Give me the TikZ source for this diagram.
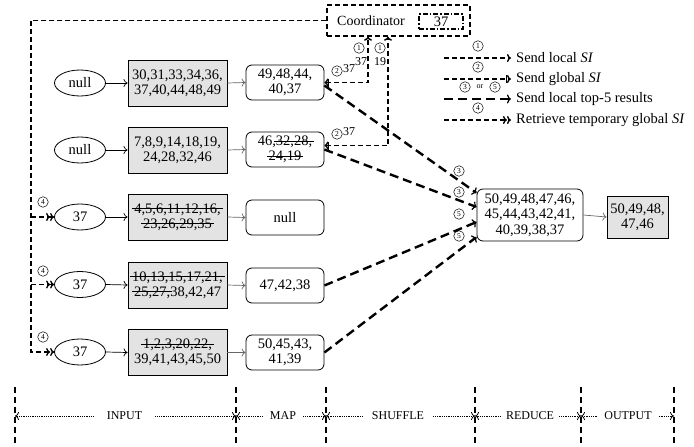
\documentclass[tikz,border=0pt]{standalone}
\usepackage{fontspec}
\setmainfont{Liberation Serif}
\usetikzlibrary{arrows.meta,shapes.geometric}
\newcommand\strk[1]{\setbox0=\hbox{#1}\leavevmode\rlap{\kern-2pt\rule[0.3em]{\dimexpr\wd0+4pt\relax}{0.6pt}}\box0\relax}
\begin{document}
\begin{tikzpicture}[x=1pt,y=-1pt,
  txt/.style={font=\fontsize{14.5}{15.3}\selectfont, align=center},
  ell/.style={ellipse, draw, line width=0.8pt, minimum width=51pt, minimum height=26pt, inner sep=0pt, txt},
  gbox/.style={rectangle, draw, line width=0.9pt, fill=black!11, minimum width=99pt, minimum height=46pt, inner sep=0pt, txt},
  rbox/.style={rectangle, rounded corners=6pt, draw, line width=0.8pt, minimum width=78pt, minimum height=35pt, inner sep=0pt, txt},
  solidarr/.style={-{To[length=4pt,width=8pt]}, line width=0.7pt},
  grayarr/.style={solidarr, draw=black!60},
  dsh/.style={line width=1.4pt, dash pattern=on 5pt off 3pt},
  tdsh/.style={line width=2.4pt, dash pattern=on 9pt off 5pt},
  tipa/.style={-{To[length=4pt,width=8pt]}},
  tipd/.style={-{To[length=4pt,width=8pt]To[length=4pt,width=8pt]}},
  tipc/.style={-{To[length=4pt,width=9pt,line width=1.2pt]}},
  tipb/.style={-{Bar[width=8pt,line width=1pt]To[length=4pt,width=8pt]}},
  cnum/.style={circle, draw, line width=0.5pt, inner sep=0pt, minimum size=10.5pt, font=\fontsize{7.5}{7.5}\selectfont},
  small/.style={font=\fontsize{12}{12}\selectfont, inner sep=0pt},
  leg/.style={font=\fontsize{14.5}{14.5}\selectfont, anchor=west, inner sep=0pt},
  axl/.style={font=\fontsize{12}{12}\selectfont, inner ysep=0pt},
  axarr/.style={densely dotted, line width=0.8pt, -{To[length=4pt,width=8pt]}},
  vdsh/.style={line width=1.3pt, dash pattern=on 6pt off 4pt}
]
\useasboundingbox (0,0) rectangle (694,447);

% coordinator
\node[draw, dsh, minimum width=143pt, minimum height=31pt, inner sep=0pt] (coord) at (398.5,20.5) {};
\node[font=\fontsize{14}{15}\selectfont, inner sep=0pt] (coordtxt) at (371,21) {Coordinator};
\node[draw, line width=1.2pt, dash pattern=on 5pt off 2pt on 1.5pt off 2pt, minimum width=44pt, minimum height=15pt, inner sep=0pt, txt] (cval) at (441,21.5) {37};

% ellipses
\node[ell] (e1) at (80,83) {null};
\node[ell] (e2) at (80,150) {null};
\node[ell] (e3) at (80,217) {37};
\node[ell] (e4) at (80,284.5) {37};
\node[ell] (e5) at (80,352) {37};

% gray input boxes
\node[gbox] (g1) at (177.5,83) {30,31,33,34,36,\\37,40,44,48,49};
\node[gbox] (g2) at (177.5,150) {7,8,9,14,18,19,\\24,28,32,46};
\node[gbox] (g3) at (177.5,217) {\strk{4,5,6,11,12,16,}\\\strk{23,26,29,35}};
\node[gbox] (g4) at (177.5,285) {\strk{10,13,15,17,21,}\\\strk{25,27,}38,42,47};
\node[gbox] (g5) at (177.5,352.5) {\strk{1,2,3,20,22,}\\39,41,43,45,50};

% map boxes
\node[rbox] (m1) at (285,82.5) {49,48,44,\\40,37};
\node[rbox] (m2) at (285,149.5) {46,\strk{32,28,}\\\strk{24,19}};
\node[rbox] (m3) at (285,217.5) {null};
\node[rbox] (m4) at (285,285.5) {47,42,38};
\node[rbox] (m5) at (285,352.5) {50,45,43,\\41,39};

% reduce and output
\node[rbox, minimum width=106pt, minimum height=52pt] (r) at (530,215) {50,49,48,47,46,\\45,44,43,42,41,\\40,39,38,37};
\node[gbox, minimum width=61pt, minimum height=42pt] (o) at (637.5,217) {50,49,48,\\47,46};

% solid arrows
\foreach \i in {1,...,5} {
  \draw[solidarr] (e\i.east) -- (g\i.west);
  \draw[grayarr] (g\i.east) -- (m\i.west);
}
\draw[grayarr] (r.east) -- (o.west);

% left retrieve line
\coordinate (lt) at (31,20.5);
\coordinate (lb) at (31,352);
\coordinate (l3) at (31,217);
\coordinate (l4) at (31,284.5);
\draw[dsh, tipd] (coord.west) -- (lt) -- (lb) -- (e5.west);
\draw[dsh, tipd] (l3) -- (e3.west);
\draw[dsh, tipd] (l4) -- (e4.west);
\node[cnum] (n4a) at (43,202) {4};
\node[cnum] (n4b) at (43,271) {4};
\node[cnum] (n4c) at (43,337) {4};

% local/global SI exchange
\coordinate (c1) at (368,82.5);
\coordinate (c2) at (388,145.5);
\draw[dsh, {To[length=4pt,width=8pt]Bar[width=8pt,line width=1pt]}-{To[length=4pt,width=8pt]}] (m1.east) -- (c1) -- (c1 |- coord.south);
\draw[dsh, {To[length=4pt,width=8pt]Bar[width=8pt,line width=1pt]}-{To[length=4pt,width=8pt]}] ([yshift=4pt]m2.east) -- (c2) -- (c2 |- coord.south);
\node[cnum] (n1a) at (359,48) {1};
\node[small] (t1a) at (361,62) {37};
\node[cnum] (n1b) at (380,48) {1};
\node[small] (t1b) at (380,62) {19};
\node[cnum] (n2a) at (337,71) {2};
\node[small, anchor=west] (t2a) at (343,69) {37};
\node[cnum] (n2b) at (337,134) {2};
\node[small, anchor=west] (t2b) at (343,132) {37};

% top-5 results
\draw[tdsh, tipc] ([yshift=-3pt]m1.east) -- ([yshift=22pt]r.west);
\draw[tdsh, tipc] (m2.east) -- ([yshift=8pt]r.west);
\draw[tdsh, tipc] (m4.east) -- ([yshift=-7pt]r.west);
\draw[tdsh, tipc] (m5.east) -- ([yshift=-22pt]r.west);
\node[cnum] (n3a) at (459,171) {3};
\node[cnum] (n3b) at (459,192) {3};
\node[cnum] (n5a) at (459,214) {5};
\node[cnum] (n5b) at (459,236) {5};

% legend
\coordinate (la1) at (444,58);  \coordinate (lb1) at (511,58);
\coordinate (la2) at (444,79);  \coordinate (lb2) at (511,79);
\coordinate (la3) at (444,99);  \coordinate (lb3) at (511,99);
\coordinate (la4) at (444,120); \coordinate (lb4) at (511,120);
\draw[dsh, tipa] (la1) -- (lb1);
\draw[dsh, tipb] (la2) -- (lb2);
\draw[tdsh, tipc] (la3) -- (lb3);
\draw[dsh, tipd] (la4) -- (lb4);
\node[cnum] (lg1) at (478,46) {1};
\node[cnum] (lg2) at (478,67) {2};
\node[cnum] (lg3) at (465,87) {3};
\node[font=\fontsize{8}{8}\selectfont, inner sep=0pt] (lgor) at (480,87) {or};
\node[cnum] (lg5) at (495,87) {5};
\node[cnum] (lg4) at (478,108) {4};
\node[leg] (lt1) at (516,58) {Send local \textit{SI}};
\node[leg] (lt2) at (516,79) {Send global \textit{SI}};
\node[leg] (lt3) at (516,99) {Send local top-5 results};
\node[leg] (lt4) at (516,120) {Retrieve temporary global \textit{SI}};

% phase axis
\foreach \k/\x in {0/15,1/236,2/326,3/475,4/581,5/674} {
  \coordinate (vt\k) at (\x,387);
  \coordinate (vb\k) at (\x,445);
  \coordinate (a\k) at (\x,416);
  \draw[vdsh] (vt\k) -- (vb\k);
}
\node[axl, inner xsep=13pt] (pin) at (124.5,416) {INPUT};
\node[axl, inner xsep=7pt] (pmap) at (283,416) {MAP};
\node[axl, inner xsep=9pt] (pshuf) at (398,416) {SHUFFLE};
\node[axl, inner xsep=5pt] (pred) at (530,416) {REDUCE};
\node[axl, inner xsep=7pt] (pout) at (628,416) {OUTPUT};
\draw[axarr] (pin.west) -- (a0);
\draw[axarr] (pin.east) -- (a1);
\draw[axarr] (pmap.west) -- (a1);
\draw[axarr] (pmap.east) -- (a2);
\draw[axarr] (pshuf.west) -- (a2);
\draw[axarr] (pshuf.east) -- (a3);
\draw[axarr] (pred.west) -- (a3);
\draw[axarr] (pred.east) -- (a4);
\draw[axarr] (pout.west) -- (a4);
\draw[axarr] (pout.east) -- (a5);
\end{tikzpicture}
\end{document}
